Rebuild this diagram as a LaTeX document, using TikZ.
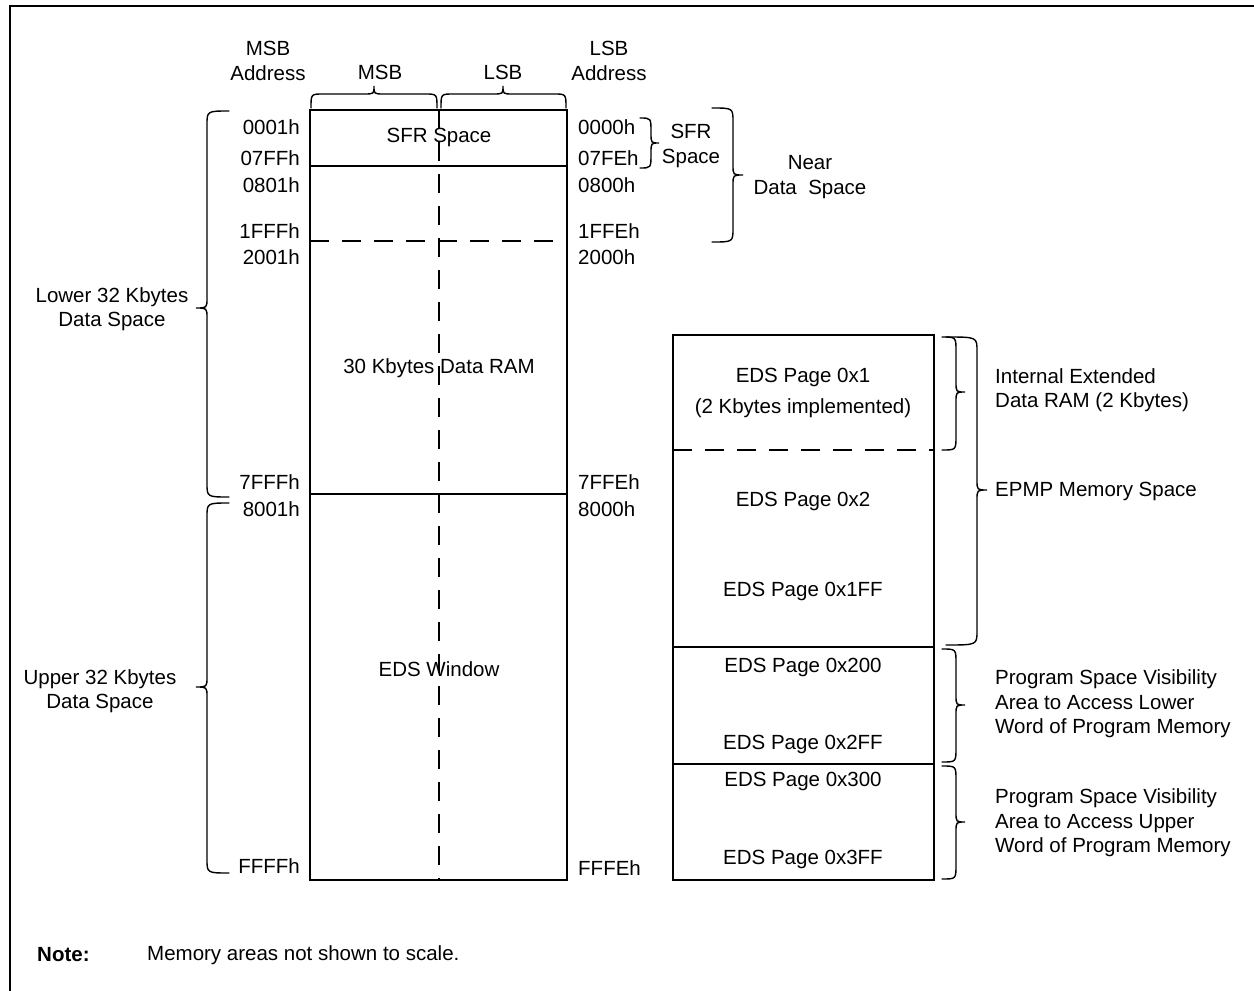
\documentclass[tikz,border=0pt]{standalone}
\usepackage{fontspec}
\setmainfont{Liberation Sans}
\newcommand{\vbrc}[6]{% xe, xl, xt, y1, ym, y2
  \draw[brc] (#1,#4) .. controls (#2,#4) .. (#2,#4+14) -- (#2,#5-10) .. controls (#2,#5) .. (#3,#5) .. controls (#2,#5) .. (#2,#5+10) -- (#2,#6-14) .. controls (#2,#6) .. (#1,#6);}
\newcommand{\hbrc}[6]{% ye, yl, yt, x1, xm, x2
  \draw[brc] (#4,#1) .. controls (#4,#2) .. (#4+12,#2) -- (#5-10,#2) .. controls (#5,#2) .. (#5,#3) .. controls (#5,#2) .. (#5+10,#2) -- (#6-12,#2) .. controls (#6,#2) .. (#6,#1);}
\begin{document}
\begin{tikzpicture}[x=1pt,y=-1pt,
  txt/.style={font=\fontsize{20.5}{24.5}\selectfont, inner sep=0pt, align=center},
  ltxt/.style={txt, align=left},
  bold/.style={txt, font=\fontsize{20.5}{24.5}\selectfont\bfseries},
  box/.style={line width=2pt},
  dsh/.style={line width=2pt, dash pattern=on 19pt off 13pt},
  brc/.style={line width=1.4pt, line cap=round}]

\useasboundingbox (0,0) rectangle (1254,991);
\draw[line width=2.2pt] (10,991) -- (10,6) -- (1254,6);

% ---------- main data-space column
\draw[dsh] (439,110) -- (439,880);
\draw[box] (310,110) rectangle (567,880);
\draw[box] (310,166) -- (567,166);
\draw[dsh] (310,241) -- (567,241);
\draw[box] (310,494) -- (567,494);

\node[txt] (sfr) at (439,137) {SFR Space};
\node[txt] (ram) at (439,368) {30 Kbytes Data RAM};
\node[txt] (win) at (439,669) {EDS Window};

% headers
\node[txt] (msbaddr) at (268,61) {MSB\\Address};
\node[txt] (lsbaddr) at (609,61) {LSB\\Address};
\node[txt] (msb) at (380,72) {MSB};
\node[txt] (lsb) at (503,72) {LSB};
\hbrc{108}{94}{86}{311}{374}{437}
\hbrc{108}{94}{86}{441}{503}{566}

% left addresses
\foreach \t/\y in {0001h/127,07FFh/158,0801h/185,1FFFh/231,2001h/257,7FFFh/482,8001h/509,FFFFh/866}
  \node[txt, anchor=east] (l\t) at (300,\y) {\t};
% right addresses
\foreach \t/\y in {0000h/127,07FEh/158,0800h/185,1FFEh/231,2000h/257,7FFEh/482,8000h/509,FFFEh/868}
  \node[txt, anchor=west] (r\t) at (578,\y) {\t};

% left braces
\vbrc{229}{207}{196}{111}{308}{497}
\vbrc{229}{207}{196}{503}{687}{873}
\node[txt] (lower) at (112,309) {Lower 32 Kbytes\\Data Space};
\node[txt] (upper) at (100,691) {Upper 32 Kbytes\\Data Space};

% SFR / near braces
\vbrc{640}{651}{659}{118}{143}{168}
\node[txt] (sfrsp) at (691,146) {SFR\\Space};
\vbrc{712}{733}{743}{108}{175}{242}
\node[txt] (near) at (810,177) {Near\\Data\ \ Space};

% ---------- EDS column
\draw[box] (673,335) rectangle (934,880);
\draw[dsh] (673,450) -- (934,450);
\draw[box] (673,647) -- (934,647);
\draw[box] (673,764) -- (934,764);

\node[txt] (p1) at (803,377) {EDS Page 0x1};
\node[txt] (p1b) at (803,408) {(2 Kbytes implemented)};
\node[txt] (p2) at (803,501) {EDS Page 0x2};
\node[txt] (p1ff) at (803,591) {EDS Page 0x1FF};
\node[txt] (p200) at (803,667) {EDS Page 0x200};
\node[txt] (p2ff) at (803,744) {EDS Page 0x2FF};
\node[txt] (p300) at (803,781) {EDS Page 0x300};
\node[txt] (p3ff) at (803,859) {EDS Page 0x3FF};

\vbrc{942}{956}{965}{337}{392}{450}
\vbrc{946}{977}{987}{337}{490}{645}
\vbrc{942}{956}{965}{649}{705}{762}
\vbrc{942}{956}{965}{766}{822}{879}

\node[ltxt, anchor=west] (ied) at (995,390) {Internal Extended\\Data RAM (2 Kbytes)};
\node[ltxt, anchor=west] (epmp) at (995,491) {EPMP Memory Space};
\node[ltxt, anchor=west] (psvl) at (995,704) {Program Space Visibility\\Area to Access Lower\\Word of Program Memory};
\node[ltxt, anchor=west] (psvu) at (995,823) {Program Space Visibility\\Area to Access Upper\\Word of Program Memory};

% note
\node[bold, anchor=west] (note) at (37,955) {Note:};
\node[txt, anchor=west] (notet) at (147,955) {Memory areas not shown to scale.};
\end{tikzpicture}
\end{document}
